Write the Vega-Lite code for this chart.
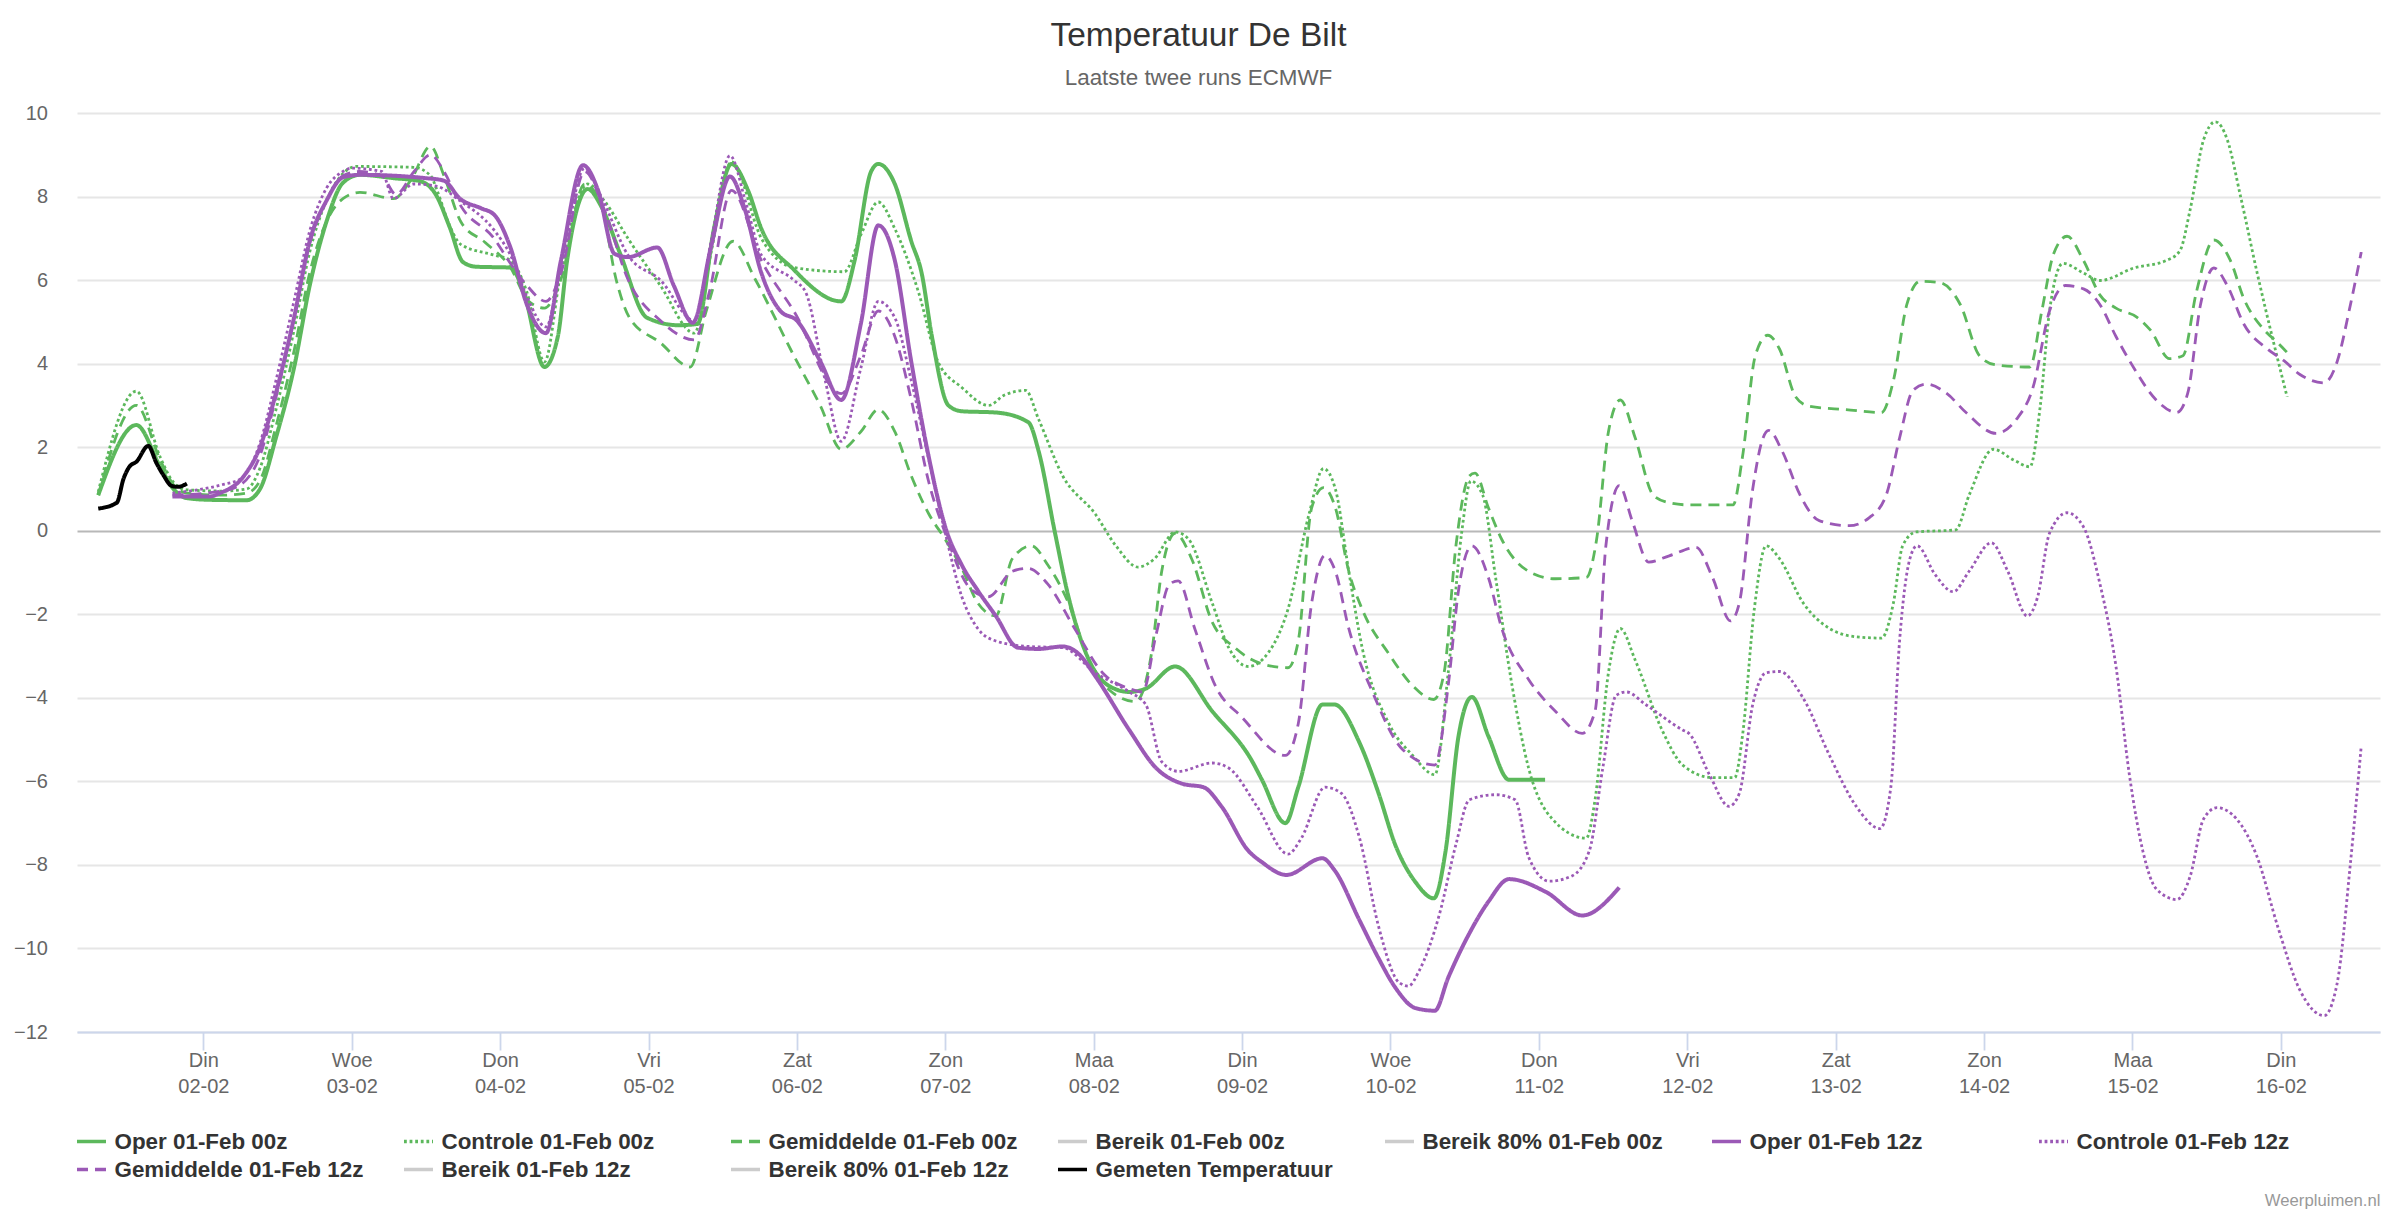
{
  "$schema": "https://vega.github.io/schema/vega-lite/v6.json",
  "autosize": {"type": "none"},
  "padding": {"left": 77, "top": 113, "right": 20, "bottom": 187},
  "width": 2303,
  "height": 919,
  "title": {
    "text": "Temperatuur De Bilt",
    "subtitle": "Laatste twee runs ECMWF",
    "anchor": "middle",
    "dx": -30,
    "offset": 13,
    "fontSize": 33.5,
    "fontWeight": "normal",
    "color": "#333333",
    "subtitleFontSize": 22.4,
    "subtitleColor": "#666666",
    "subtitlePadding": 13
  },
  "data": {
    "values": [
      {"s": "Oper 01-Feb 00z", "t": "2021-02-01T07:00", "v": 0.85},
      {"s": "Oper 01-Feb 00z", "t": "2021-02-01T13:10", "v": 2.53},
      {"s": "Oper 01-Feb 00z", "t": "2021-02-01T17:00", "v": 1.54},
      {"s": "Oper 01-Feb 00z", "t": "2021-02-01T19:10", "v": 1.0},
      {"s": "Oper 01-Feb 00z", "t": "2021-02-01T21:20", "v": 0.78},
      {"s": "Oper 01-Feb 00z", "t": "2021-02-02T01:00", "v": 0.74},
      {"s": "Oper 01-Feb 00z", "t": "2021-02-02T07:00", "v": 0.73},
      {"s": "Oper 01-Feb 00z", "t": "2021-02-02T09:10", "v": 1.0},
      {"s": "Oper 01-Feb 00z", "t": "2021-02-02T11:45", "v": 2.23},
      {"s": "Oper 01-Feb 00z", "t": "2021-02-02T14:40", "v": 3.9},
      {"s": "Oper 01-Feb 00z", "t": "2021-02-02T17:15", "v": 5.9},
      {"s": "Oper 01-Feb 00z", "t": "2021-02-02T19:55", "v": 7.4},
      {"s": "Oper 01-Feb 00z", "t": "2021-02-02T22:35", "v": 8.33},
      {"s": "Oper 01-Feb 00z", "t": "2021-02-03T01:20", "v": 8.52},
      {"s": "Oper 01-Feb 00z", "t": "2021-02-03T06:45", "v": 8.44},
      {"s": "Oper 01-Feb 00z", "t": "2021-02-03T11:00", "v": 8.37},
      {"s": "Oper 01-Feb 00z", "t": "2021-02-03T13:40", "v": 8.03},
      {"s": "Oper 01-Feb 00z", "t": "2021-02-03T15:50", "v": 7.27},
      {"s": "Oper 01-Feb 00z", "t": "2021-02-03T18:00", "v": 6.43},
      {"s": "Oper 01-Feb 00z", "t": "2021-02-03T20:10", "v": 6.32},
      {"s": "Oper 01-Feb 00z", "t": "2021-02-04T01:40", "v": 6.3},
      {"s": "Oper 01-Feb 00z", "t": "2021-02-04T03:50", "v": 5.7},
      {"s": "Oper 01-Feb 00z", "t": "2021-02-04T07:10", "v": 3.92},
      {"s": "Oper 01-Feb 00z", "t": "2021-02-04T09:20", "v": 4.65},
      {"s": "Oper 01-Feb 00z", "t": "2021-02-04T10:50", "v": 6.47},
      {"s": "Oper 01-Feb 00z", "t": "2021-02-04T14:10", "v": 8.18},
      {"s": "Oper 01-Feb 00z", "t": "2021-02-04T16:20", "v": 7.77},
      {"s": "Oper 01-Feb 00z", "t": "2021-02-04T19:25", "v": 6.63},
      {"s": "Oper 01-Feb 00z", "t": "2021-02-04T23:45", "v": 5.1},
      {"s": "Oper 01-Feb 00z", "t": "2021-02-05T04:50", "v": 4.92},
      {"s": "Oper 01-Feb 00z", "t": "2021-02-05T07:55", "v": 4.95},
      {"s": "Oper 01-Feb 00z", "t": "2021-02-05T10:35", "v": 7.23},
      {"s": "Oper 01-Feb 00z", "t": "2021-02-05T13:25", "v": 8.78},
      {"s": "Oper 01-Feb 00z", "t": "2021-02-05T16:05", "v": 8.15},
      {"s": "Oper 01-Feb 00z", "t": "2021-02-05T18:15", "v": 7.23},
      {"s": "Oper 01-Feb 00z", "t": "2021-02-05T23:30", "v": 6.25},
      {"s": "Oper 01-Feb 00z", "t": "2021-02-06T07:10", "v": 5.49},
      {"s": "Oper 01-Feb 00z", "t": "2021-02-06T09:20", "v": 6.47},
      {"s": "Oper 01-Feb 00z", "t": "2021-02-06T12:00", "v": 8.6},
      {"s": "Oper 01-Feb 00z", "t": "2021-02-06T13:10", "v": 8.78},
      {"s": "Oper 01-Feb 00z", "t": "2021-02-06T15:50", "v": 8.3},
      {"s": "Oper 01-Feb 00z", "t": "2021-02-06T18:30", "v": 6.93},
      {"s": "Oper 01-Feb 00z", "t": "2021-02-06T20:10", "v": 6.17},
      {"s": "Oper 01-Feb 00z", "t": "2021-02-06T21:50", "v": 4.65},
      {"s": "Oper 01-Feb 00z", "t": "2021-02-07T00:30", "v": 3.0},
      {"s": "Oper 01-Feb 00z", "t": "2021-02-07T02:40", "v": 2.86},
      {"s": "Oper 01-Feb 00z", "t": "2021-02-07T08:10", "v": 2.83},
      {"s": "Oper 01-Feb 00z", "t": "2021-02-07T13:25", "v": 2.6},
      {"s": "Oper 01-Feb 00z", "t": "2021-02-07T15:05", "v": 1.91},
      {"s": "Oper 01-Feb 00z", "t": "2021-02-07T17:45", "v": -0.06},
      {"s": "Oper 01-Feb 00z", "t": "2021-02-07T19:55", "v": -1.58},
      {"s": "Oper 01-Feb 00z", "t": "2021-02-07T23:15", "v": -3.1},
      {"s": "Oper 01-Feb 00z", "t": "2021-02-08T02:25", "v": -3.71},
      {"s": "Oper 01-Feb 00z", "t": "2021-02-08T05:45", "v": -3.86},
      {"s": "Oper 01-Feb 00z", "t": "2021-02-08T08:25", "v": -3.78},
      {"s": "Oper 01-Feb 00z", "t": "2021-02-08T13:10", "v": -3.25},
      {"s": "Oper 01-Feb 00z", "t": "2021-02-08T19:10", "v": -4.32},
      {"s": "Oper 01-Feb 00z", "t": "2021-02-09T01:40", "v": -5.53},
      {"s": "Oper 01-Feb 00z", "t": "2021-02-09T03:10", "v": -5.95},
      {"s": "Oper 01-Feb 00z", "t": "2021-02-09T07:00", "v": -7.0},
      {"s": "Oper 01-Feb 00z", "t": "2021-02-09T09:05", "v": -6.14},
      {"s": "Oper 01-Feb 00z", "t": "2021-02-09T13:00", "v": -4.16},
      {"s": "Oper 01-Feb 00z", "t": "2021-02-09T14:55", "v": -4.16},
      {"s": "Oper 01-Feb 00z", "t": "2021-02-09T19:00", "v": -5.08},
      {"s": "Oper 01-Feb 00z", "t": "2021-02-09T22:05", "v": -6.29},
      {"s": "Oper 01-Feb 00z", "t": "2021-02-10T00:45", "v": -7.51},
      {"s": "Oper 01-Feb 00z", "t": "2021-02-10T04:05", "v": -8.42},
      {"s": "Oper 01-Feb 00z", "t": "2021-02-10T07:00", "v": -8.8},
      {"s": "Oper 01-Feb 00z", "t": "2021-02-10T08:55", "v": -7.66},
      {"s": "Oper 01-Feb 00z", "t": "2021-02-10T11:00", "v": -4.92},
      {"s": "Oper 01-Feb 00z", "t": "2021-02-10T13:10", "v": -3.98},
      {"s": "Oper 01-Feb 00z", "t": "2021-02-10T15:50", "v": -4.92},
      {"s": "Oper 01-Feb 00z", "t": "2021-02-10T19:10", "v": -5.96},
      {"s": "Oper 01-Feb 00z", "t": "2021-02-11T01:00", "v": -5.96},
      {"s": "Controle 01-Feb 00z", "t": "2021-02-01T07:00", "v": 0.93},
      {"s": "Controle 01-Feb 00z", "t": "2021-02-01T13:10", "v": 3.34},
      {"s": "Controle 01-Feb 00z", "t": "2021-02-01T17:00", "v": 1.77},
      {"s": "Controle 01-Feb 00z", "t": "2021-02-01T19:10", "v": 1.16},
      {"s": "Controle 01-Feb 00z", "t": "2021-02-01T21:20", "v": 0.98},
      {"s": "Controle 01-Feb 00z", "t": "2021-02-02T03:00", "v": 0.95},
      {"s": "Controle 01-Feb 00z", "t": "2021-02-02T07:00", "v": 1.0},
      {"s": "Controle 01-Feb 00z", "t": "2021-02-02T09:10", "v": 1.5},
      {"s": "Controle 01-Feb 00z", "t": "2021-02-02T11:45", "v": 2.9},
      {"s": "Controle 01-Feb 00z", "t": "2021-02-02T14:40", "v": 4.8},
      {"s": "Controle 01-Feb 00z", "t": "2021-02-02T17:15", "v": 6.7},
      {"s": "Controle 01-Feb 00z", "t": "2021-02-02T19:55", "v": 7.9},
      {"s": "Controle 01-Feb 00z", "t": "2021-02-02T22:35", "v": 8.55},
      {"s": "Controle 01-Feb 00z", "t": "2021-02-03T00:45", "v": 8.72},
      {"s": "Controle 01-Feb 00z", "t": "2021-02-03T10:00", "v": 8.7},
      {"s": "Controle 01-Feb 00z", "t": "2021-02-03T12:45", "v": 8.5},
      {"s": "Controle 01-Feb 00z", "t": "2021-02-03T13:55", "v": 8.1},
      {"s": "Controle 01-Feb 00z", "t": "2021-02-03T15:50", "v": 7.3},
      {"s": "Controle 01-Feb 00z", "t": "2021-02-03T17:40", "v": 6.85},
      {"s": "Controle 01-Feb 00z", "t": "2021-02-03T23:00", "v": 6.6},
      {"s": "Controle 01-Feb 00z", "t": "2021-02-04T01:40", "v": 6.47},
      {"s": "Controle 01-Feb 00z", "t": "2021-02-04T04:20", "v": 5.71},
      {"s": "Controle 01-Feb 00z", "t": "2021-02-04T07:10", "v": 4.04},
      {"s": "Controle 01-Feb 00z", "t": "2021-02-04T09:50", "v": 6.2},
      {"s": "Controle 01-Feb 00z", "t": "2021-02-04T14:10", "v": 8.3},
      {"s": "Controle 01-Feb 00z", "t": "2021-02-04T16:50", "v": 7.9},
      {"s": "Controle 01-Feb 00z", "t": "2021-02-04T20:40", "v": 7.0},
      {"s": "Controle 01-Feb 00z", "t": "2021-02-05T01:55", "v": 5.87},
      {"s": "Controle 01-Feb 00z", "t": "2021-02-05T07:25", "v": 4.73},
      {"s": "Controle 01-Feb 00z", "t": "2021-02-05T10:05", "v": 6.63},
      {"s": "Controle 01-Feb 00z", "t": "2021-02-05T13:25", "v": 8.83},
      {"s": "Controle 01-Feb 00z", "t": "2021-02-05T18:15", "v": 7.0},
      {"s": "Controle 01-Feb 00z", "t": "2021-02-05T23:30", "v": 6.3},
      {"s": "Controle 01-Feb 00z", "t": "2021-02-06T07:40", "v": 6.2},
      {"s": "Controle 01-Feb 00z", "t": "2021-02-06T10:20", "v": 7.08},
      {"s": "Controle 01-Feb 00z", "t": "2021-02-06T13:10", "v": 7.87},
      {"s": "Controle 01-Feb 00z", "t": "2021-02-06T15:50", "v": 7.23},
      {"s": "Controle 01-Feb 00z", "t": "2021-02-06T19:40", "v": 5.71},
      {"s": "Controle 01-Feb 00z", "t": "2021-02-06T22:50", "v": 4.04},
      {"s": "Controle 01-Feb 00z", "t": "2021-02-07T02:40", "v": 3.43},
      {"s": "Controle 01-Feb 00z", "t": "2021-02-07T07:00", "v": 3.0},
      {"s": "Controle 01-Feb 00z", "t": "2021-02-07T09:35", "v": 3.25},
      {"s": "Controle 01-Feb 00z", "t": "2021-02-07T13:00", "v": 3.36},
      {"s": "Controle 01-Feb 00z", "t": "2021-02-07T15:05", "v": 2.67},
      {"s": "Controle 01-Feb 00z", "t": "2021-02-07T19:00", "v": 1.31},
      {"s": "Controle 01-Feb 00z", "t": "2021-02-08T00:15", "v": 0.4},
      {"s": "Controle 01-Feb 00z", "t": "2021-02-08T03:35", "v": -0.36},
      {"s": "Controle 01-Feb 00z", "t": "2021-02-08T07:10", "v": -0.87},
      {"s": "Controle 01-Feb 00z", "t": "2021-02-08T09:50", "v": -0.67},
      {"s": "Controle 01-Feb 00z", "t": "2021-02-08T13:10", "v": -0.03},
      {"s": "Controle 01-Feb 00z", "t": "2021-02-08T15:20", "v": -0.2},
      {"s": "Controle 01-Feb 00z", "t": "2021-02-08T19:10", "v": -1.73},
      {"s": "Controle 01-Feb 00z", "t": "2021-02-08T21:50", "v": -2.8},
      {"s": "Controle 01-Feb 00z", "t": "2021-02-09T01:00", "v": -3.25},
      {"s": "Controle 01-Feb 00z", "t": "2021-02-09T04:20", "v": -2.9},
      {"s": "Controle 01-Feb 00z", "t": "2021-02-09T07:25", "v": -1.88},
      {"s": "Controle 01-Feb 00z", "t": "2021-02-09T10:50", "v": 0.4},
      {"s": "Controle 01-Feb 00z", "t": "2021-02-09T13:10", "v": 1.49},
      {"s": "Controle 01-Feb 00z", "t": "2021-02-09T15:05", "v": 1.0},
      {"s": "Controle 01-Feb 00z", "t": "2021-02-09T17:15", "v": -0.97},
      {"s": "Controle 01-Feb 00z", "t": "2021-02-09T19:25", "v": -2.8},
      {"s": "Controle 01-Feb 00z", "t": "2021-02-09T23:45", "v": -4.62},
      {"s": "Controle 01-Feb 00z", "t": "2021-02-10T03:35", "v": -5.38},
      {"s": "Controle 01-Feb 00z", "t": "2021-02-10T07:10", "v": -5.84},
      {"s": "Controle 01-Feb 00z", "t": "2021-02-10T09:20", "v": -3.4},
      {"s": "Controle 01-Feb 00z", "t": "2021-02-10T11:30", "v": -0.06},
      {"s": "Controle 01-Feb 00z", "t": "2021-02-10T13:00", "v": 1.19},
      {"s": "Controle 01-Feb 00z", "t": "2021-02-10T14:55", "v": 0.85},
      {"s": "Controle 01-Feb 00z", "t": "2021-02-10T17:00", "v": -1.12},
      {"s": "Controle 01-Feb 00z", "t": "2021-02-10T19:40", "v": -3.71},
      {"s": "Controle 01-Feb 00z", "t": "2021-02-10T22:20", "v": -5.68},
      {"s": "Controle 01-Feb 00z", "t": "2021-02-11T02:10", "v": -6.9},
      {"s": "Controle 01-Feb 00z", "t": "2021-02-11T07:40", "v": -7.36},
      {"s": "Controle 01-Feb 00z", "t": "2021-02-11T09:05", "v": -6.44},
      {"s": "Controle 01-Feb 00z", "t": "2021-02-11T11:15", "v": -3.4},
      {"s": "Controle 01-Feb 00z", "t": "2021-02-11T13:10", "v": -2.34},
      {"s": "Controle 01-Feb 00z", "t": "2021-02-11T15:35", "v": -3.1},
      {"s": "Controle 01-Feb 00z", "t": "2021-02-11T19:55", "v": -4.77},
      {"s": "Controle 01-Feb 00z", "t": "2021-02-11T23:15", "v": -5.61},
      {"s": "Controle 01-Feb 00z", "t": "2021-02-12T04:05", "v": -5.91},
      {"s": "Controle 01-Feb 00z", "t": "2021-02-12T07:40", "v": -5.91},
      {"s": "Controle 01-Feb 00z", "t": "2021-02-12T08:55", "v": -4.92},
      {"s": "Controle 01-Feb 00z", "t": "2021-02-12T10:50", "v": -1.88},
      {"s": "Controle 01-Feb 00z", "t": "2021-02-12T12:45", "v": -0.36},
      {"s": "Controle 01-Feb 00z", "t": "2021-02-12T14:55", "v": -0.67},
      {"s": "Controle 01-Feb 00z", "t": "2021-02-12T18:45", "v": -1.73},
      {"s": "Controle 01-Feb 00z", "t": "2021-02-12T23:00", "v": -2.34},
      {"s": "Controle 01-Feb 00z", "t": "2021-02-13T03:20", "v": -2.54},
      {"s": "Controle 01-Feb 00z", "t": "2021-02-13T07:25", "v": -2.57},
      {"s": "Controle 01-Feb 00z", "t": "2021-02-13T09:20", "v": -1.73},
      {"s": "Controle 01-Feb 00z", "t": "2021-02-13T10:50", "v": -0.36},
      {"s": "Controle 01-Feb 00z", "t": "2021-02-13T13:00", "v": -0.03},
      {"s": "Controle 01-Feb 00z", "t": "2021-02-13T19:25", "v": 0.02},
      {"s": "Controle 01-Feb 00z", "t": "2021-02-13T21:35", "v": 0.85},
      {"s": "Controle 01-Feb 00z", "t": "2021-02-14T01:30", "v": 1.95},
      {"s": "Controle 01-Feb 00z", "t": "2021-02-14T04:50", "v": 1.69},
      {"s": "Controle 01-Feb 00z", "t": "2021-02-14T07:25", "v": 1.53},
      {"s": "Controle 01-Feb 00z", "t": "2021-02-14T09:05", "v": 2.98},
      {"s": "Controle 01-Feb 00z", "t": "2021-02-14T10:35", "v": 5.26},
      {"s": "Controle 01-Feb 00z", "t": "2021-02-14T12:45", "v": 6.4},
      {"s": "Controle 01-Feb 00z", "t": "2021-02-14T16:05", "v": 6.17},
      {"s": "Controle 01-Feb 00z", "t": "2021-02-14T18:45", "v": 5.99},
      {"s": "Controle 01-Feb 00z", "t": "2021-02-15T00:15", "v": 6.29},
      {"s": "Controle 01-Feb 00z", "t": "2021-02-15T05:30", "v": 6.47},
      {"s": "Controle 01-Feb 00z", "t": "2021-02-15T07:40", "v": 6.7},
      {"s": "Controle 01-Feb 00z", "t": "2021-02-15T09:20", "v": 7.69},
      {"s": "Controle 01-Feb 00z", "t": "2021-02-15T11:30", "v": 9.36},
      {"s": "Controle 01-Feb 00z", "t": "2021-02-15T13:25", "v": 9.79},
      {"s": "Controle 01-Feb 00z", "t": "2021-02-15T15:20", "v": 9.36},
      {"s": "Controle 01-Feb 00z", "t": "2021-02-15T17:30", "v": 7.99},
      {"s": "Controle 01-Feb 00z", "t": "2021-02-15T20:10", "v": 6.17},
      {"s": "Controle 01-Feb 00z", "t": "2021-02-15T22:50", "v": 4.5},
      {"s": "Controle 01-Feb 00z", "t": "2021-02-16T01:00", "v": 3.21},
      {"s": "Gemiddelde 01-Feb 00z", "t": "2021-02-01T07:00", "v": 0.85},
      {"s": "Gemiddelde 01-Feb 00z", "t": "2021-02-01T13:10", "v": 3.0},
      {"s": "Gemiddelde 01-Feb 00z", "t": "2021-02-01T17:00", "v": 1.7},
      {"s": "Gemiddelde 01-Feb 00z", "t": "2021-02-01T19:10", "v": 1.1},
      {"s": "Gemiddelde 01-Feb 00z", "t": "2021-02-01T21:20", "v": 0.9},
      {"s": "Gemiddelde 01-Feb 00z", "t": "2021-02-02T03:00", "v": 0.85},
      {"s": "Gemiddelde 01-Feb 00z", "t": "2021-02-02T07:00", "v": 0.9},
      {"s": "Gemiddelde 01-Feb 00z", "t": "2021-02-02T09:10", "v": 1.2},
      {"s": "Gemiddelde 01-Feb 00z", "t": "2021-02-02T11:45", "v": 2.5},
      {"s": "Gemiddelde 01-Feb 00z", "t": "2021-02-02T14:40", "v": 4.3},
      {"s": "Gemiddelde 01-Feb 00z", "t": "2021-02-02T17:15", "v": 6.2},
      {"s": "Gemiddelde 01-Feb 00z", "t": "2021-02-02T19:55", "v": 7.4},
      {"s": "Gemiddelde 01-Feb 00z", "t": "2021-02-02T22:35", "v": 7.95},
      {"s": "Gemiddelde 01-Feb 00z", "t": "2021-02-03T01:20", "v": 8.1},
      {"s": "Gemiddelde 01-Feb 00z", "t": "2021-02-03T06:45", "v": 7.95},
      {"s": "Gemiddelde 01-Feb 00z", "t": "2021-02-03T09:35", "v": 8.4},
      {"s": "Gemiddelde 01-Feb 00z", "t": "2021-02-03T12:45", "v": 9.2},
      {"s": "Gemiddelde 01-Feb 00z", "t": "2021-02-03T14:55", "v": 8.5},
      {"s": "Gemiddelde 01-Feb 00z", "t": "2021-02-03T17:40", "v": 7.39},
      {"s": "Gemiddelde 01-Feb 00z", "t": "2021-02-03T21:35", "v": 6.9},
      {"s": "Gemiddelde 01-Feb 00z", "t": "2021-02-04T01:40", "v": 6.3},
      {"s": "Gemiddelde 01-Feb 00z", "t": "2021-02-04T04:35", "v": 5.5},
      {"s": "Gemiddelde 01-Feb 00z", "t": "2021-02-04T07:10", "v": 5.33},
      {"s": "Gemiddelde 01-Feb 00z", "t": "2021-02-04T09:50", "v": 6.02},
      {"s": "Gemiddelde 01-Feb 00z", "t": "2021-02-04T13:40", "v": 8.3},
      {"s": "Gemiddelde 01-Feb 00z", "t": "2021-02-04T16:20", "v": 7.8},
      {"s": "Gemiddelde 01-Feb 00z", "t": "2021-02-04T18:45", "v": 6.02},
      {"s": "Gemiddelde 01-Feb 00z", "t": "2021-02-04T20:55", "v": 5.1},
      {"s": "Gemiddelde 01-Feb 00z", "t": "2021-02-05T01:55", "v": 4.5},
      {"s": "Gemiddelde 01-Feb 00z", "t": "2021-02-05T06:45", "v": 3.92},
      {"s": "Gemiddelde 01-Feb 00z", "t": "2021-02-05T09:20", "v": 5.26},
      {"s": "Gemiddelde 01-Feb 00z", "t": "2021-02-05T13:40", "v": 6.93},
      {"s": "Gemiddelde 01-Feb 00z", "t": "2021-02-05T17:15", "v": 6.02},
      {"s": "Gemiddelde 01-Feb 00z", "t": "2021-02-05T23:30", "v": 4.19},
      {"s": "Gemiddelde 01-Feb 00z", "t": "2021-02-06T03:50", "v": 2.98},
      {"s": "Gemiddelde 01-Feb 00z", "t": "2021-02-06T07:10", "v": 1.95},
      {"s": "Gemiddelde 01-Feb 00z", "t": "2021-02-06T10:20", "v": 2.37},
      {"s": "Gemiddelde 01-Feb 00z", "t": "2021-02-06T13:10", "v": 2.9},
      {"s": "Gemiddelde 01-Feb 00z", "t": "2021-02-06T15:50", "v": 2.37},
      {"s": "Gemiddelde 01-Feb 00z", "t": "2021-02-06T18:30", "v": 1.31},
      {"s": "Gemiddelde 01-Feb 00z", "t": "2021-02-06T21:20", "v": 0.4},
      {"s": "Gemiddelde 01-Feb 00z", "t": "2021-02-07T00:00", "v": -0.21},
      {"s": "Gemiddelde 01-Feb 00z", "t": "2021-02-07T02:40", "v": -0.9},
      {"s": "Gemiddelde 01-Feb 00z", "t": "2021-02-07T05:15", "v": -1.73},
      {"s": "Gemiddelde 01-Feb 00z", "t": "2021-02-07T08:10", "v": -2.04},
      {"s": "Gemiddelde 01-Feb 00z", "t": "2021-02-07T10:50", "v": -0.67},
      {"s": "Gemiddelde 01-Feb 00z", "t": "2021-02-07T13:55", "v": -0.36},
      {"s": "Gemiddelde 01-Feb 00z", "t": "2021-02-07T16:35", "v": -0.82},
      {"s": "Gemiddelde 01-Feb 00z", "t": "2021-02-07T19:55", "v": -1.73},
      {"s": "Gemiddelde 01-Feb 00z", "t": "2021-02-07T23:15", "v": -3.1},
      {"s": "Gemiddelde 01-Feb 00z", "t": "2021-02-08T02:55", "v": -3.86},
      {"s": "Gemiddelde 01-Feb 00z", "t": "2021-02-08T06:45", "v": -4.09},
      {"s": "Gemiddelde 01-Feb 00z", "t": "2021-02-08T09:20", "v": -2.95},
      {"s": "Gemiddelde 01-Feb 00z", "t": "2021-02-08T11:00", "v": -0.97},
      {"s": "Gemiddelde 01-Feb 00z", "t": "2021-02-08T13:10", "v": -0.06},
      {"s": "Gemiddelde 01-Feb 00z", "t": "2021-02-08T15:50", "v": -0.67},
      {"s": "Gemiddelde 01-Feb 00z", "t": "2021-02-08T19:10", "v": -2.19},
      {"s": "Gemiddelde 01-Feb 00z", "t": "2021-02-08T22:50", "v": -2.8},
      {"s": "Gemiddelde 01-Feb 00z", "t": "2021-02-09T03:05", "v": -3.18},
      {"s": "Gemiddelde 01-Feb 00z", "t": "2021-02-09T07:25", "v": -3.28},
      {"s": "Gemiddelde 01-Feb 00z", "t": "2021-02-09T09:05", "v": -2.64},
      {"s": "Gemiddelde 01-Feb 00z", "t": "2021-02-09T11:15", "v": 0.55},
      {"s": "Gemiddelde 01-Feb 00z", "t": "2021-02-09T13:10", "v": 1.03},
      {"s": "Gemiddelde 01-Feb 00z", "t": "2021-02-09T15:05", "v": 0.55},
      {"s": "Gemiddelde 01-Feb 00z", "t": "2021-02-09T17:15", "v": -0.97},
      {"s": "Gemiddelde 01-Feb 00z", "t": "2021-02-09T19:25", "v": -1.88},
      {"s": "Gemiddelde 01-Feb 00z", "t": "2021-02-09T23:45", "v": -2.95},
      {"s": "Gemiddelde 01-Feb 00z", "t": "2021-02-10T03:35", "v": -3.71},
      {"s": "Gemiddelde 01-Feb 00z", "t": "2021-02-10T07:00", "v": -4.04},
      {"s": "Gemiddelde 01-Feb 00z", "t": "2021-02-10T08:40", "v": -3.4},
      {"s": "Gemiddelde 01-Feb 00z", "t": "2021-02-10T10:35", "v": -0.36},
      {"s": "Gemiddelde 01-Feb 00z", "t": "2021-02-10T12:45", "v": 1.31},
      {"s": "Gemiddelde 01-Feb 00z", "t": "2021-02-10T13:40", "v": 1.38},
      {"s": "Gemiddelde 01-Feb 00z", "t": "2021-02-10T15:50", "v": 0.55},
      {"s": "Gemiddelde 01-Feb 00z", "t": "2021-02-10T18:00", "v": -0.21},
      {"s": "Gemiddelde 01-Feb 00z", "t": "2021-02-10T22:20", "v": -0.97},
      {"s": "Gemiddelde 01-Feb 00z", "t": "2021-02-11T02:40", "v": -1.15},
      {"s": "Gemiddelde 01-Feb 00z", "t": "2021-02-11T07:40", "v": -1.12},
      {"s": "Gemiddelde 01-Feb 00z", "t": "2021-02-11T09:20", "v": -0.21},
      {"s": "Gemiddelde 01-Feb 00z", "t": "2021-02-11T11:15", "v": 2.37},
      {"s": "Gemiddelde 01-Feb 00z", "t": "2021-02-11T13:10", "v": 3.13},
      {"s": "Gemiddelde 01-Feb 00z", "t": "2021-02-11T15:35", "v": 2.22},
      {"s": "Gemiddelde 01-Feb 00z", "t": "2021-02-11T18:30", "v": 0.85},
      {"s": "Gemiddelde 01-Feb 00z", "t": "2021-02-11T21:05", "v": 0.67},
      {"s": "Gemiddelde 01-Feb 00z", "t": "2021-02-12T00:00", "v": 0.62},
      {"s": "Gemiddelde 01-Feb 00z", "t": "2021-02-12T07:25", "v": 0.62},
      {"s": "Gemiddelde 01-Feb 00z", "t": "2021-02-12T08:55", "v": 1.76},
      {"s": "Gemiddelde 01-Feb 00z", "t": "2021-02-12T11:00", "v": 4.19},
      {"s": "Gemiddelde 01-Feb 00z", "t": "2021-02-12T13:00", "v": 4.68},
      {"s": "Gemiddelde 01-Feb 00z", "t": "2021-02-12T14:55", "v": 4.35},
      {"s": "Gemiddelde 01-Feb 00z", "t": "2021-02-12T17:30", "v": 3.21},
      {"s": "Gemiddelde 01-Feb 00z", "t": "2021-02-12T19:40", "v": 2.98},
      {"s": "Gemiddelde 01-Feb 00z", "t": "2021-02-13T01:40", "v": 2.9},
      {"s": "Gemiddelde 01-Feb 00z", "t": "2021-02-13T07:25", "v": 2.83},
      {"s": "Gemiddelde 01-Feb 00z", "t": "2021-02-13T09:20", "v": 3.59},
      {"s": "Gemiddelde 01-Feb 00z", "t": "2021-02-13T11:30", "v": 5.41},
      {"s": "Gemiddelde 01-Feb 00z", "t": "2021-02-13T13:40", "v": 5.97},
      {"s": "Gemiddelde 01-Feb 00z", "t": "2021-02-13T16:50", "v": 5.94},
      {"s": "Gemiddelde 01-Feb 00z", "t": "2021-02-13T20:10", "v": 5.41},
      {"s": "Gemiddelde 01-Feb 00z", "t": "2021-02-13T23:15", "v": 4.19},
      {"s": "Gemiddelde 01-Feb 00z", "t": "2021-02-14T01:55", "v": 3.97},
      {"s": "Gemiddelde 01-Feb 00z", "t": "2021-02-14T07:25", "v": 3.92},
      {"s": "Gemiddelde 01-Feb 00z", "t": "2021-02-14T09:20", "v": 5.26},
      {"s": "Gemiddelde 01-Feb 00z", "t": "2021-02-14T11:15", "v": 6.63},
      {"s": "Gemiddelde 01-Feb 00z", "t": "2021-02-14T13:25", "v": 7.05},
      {"s": "Gemiddelde 01-Feb 00z", "t": "2021-02-14T16:05", "v": 6.47},
      {"s": "Gemiddelde 01-Feb 00z", "t": "2021-02-14T18:45", "v": 5.64},
      {"s": "Gemiddelde 01-Feb 00z", "t": "2021-02-14T21:20", "v": 5.33},
      {"s": "Gemiddelde 01-Feb 00z", "t": "2021-02-15T00:45", "v": 5.11},
      {"s": "Gemiddelde 01-Feb 00z", "t": "2021-02-15T02:55", "v": 4.8},
      {"s": "Gemiddelde 01-Feb 00z", "t": "2021-02-15T06:00", "v": 4.12},
      {"s": "Gemiddelde 01-Feb 00z", "t": "2021-02-15T08:10", "v": 4.19},
      {"s": "Gemiddelde 01-Feb 00z", "t": "2021-02-15T10:20", "v": 5.71},
      {"s": "Gemiddelde 01-Feb 00z", "t": "2021-02-15T13:10", "v": 6.96},
      {"s": "Gemiddelde 01-Feb 00z", "t": "2021-02-15T15:50", "v": 6.47},
      {"s": "Gemiddelde 01-Feb 00z", "t": "2021-02-15T18:00", "v": 5.56},
      {"s": "Gemiddelde 01-Feb 00z", "t": "2021-02-15T21:20", "v": 4.8},
      {"s": "Gemiddelde 01-Feb 00z", "t": "2021-02-15T23:30", "v": 4.5},
      {"s": "Gemiddelde 01-Feb 00z", "t": "2021-02-16T01:00", "v": 4.27},
      {"s": "Oper 01-Feb 12z", "t": "2021-02-01T19:00", "v": 0.82},
      {"s": "Oper 01-Feb 12z", "t": "2021-02-02T01:00", "v": 0.82},
      {"s": "Oper 01-Feb 12z", "t": "2021-02-02T02:40", "v": 0.9},
      {"s": "Oper 01-Feb 12z", "t": "2021-02-02T06:30", "v": 1.3},
      {"s": "Oper 01-Feb 12z", "t": "2021-02-02T09:10", "v": 2.0},
      {"s": "Oper 01-Feb 12z", "t": "2021-02-02T11:45", "v": 3.3},
      {"s": "Oper 01-Feb 12z", "t": "2021-02-02T14:40", "v": 5.1},
      {"s": "Oper 01-Feb 12z", "t": "2021-02-02T17:15", "v": 6.96},
      {"s": "Oper 01-Feb 12z", "t": "2021-02-02T19:55", "v": 7.9},
      {"s": "Oper 01-Feb 12z", "t": "2021-02-02T22:35", "v": 8.46},
      {"s": "Oper 01-Feb 12z", "t": "2021-02-03T01:20", "v": 8.52},
      {"s": "Oper 01-Feb 12z", "t": "2021-02-03T12:00", "v": 8.44},
      {"s": "Oper 01-Feb 12z", "t": "2021-02-03T14:55", "v": 8.38},
      {"s": "Oper 01-Feb 12z", "t": "2021-02-03T17:30", "v": 7.95},
      {"s": "Oper 01-Feb 12z", "t": "2021-02-03T20:55", "v": 7.72},
      {"s": "Oper 01-Feb 12z", "t": "2021-02-03T23:00", "v": 7.57},
      {"s": "Oper 01-Feb 12z", "t": "2021-02-04T01:40", "v": 6.78},
      {"s": "Oper 01-Feb 12z", "t": "2021-02-04T04:20", "v": 5.41},
      {"s": "Oper 01-Feb 12z", "t": "2021-02-04T07:25", "v": 4.73},
      {"s": "Oper 01-Feb 12z", "t": "2021-02-04T09:50", "v": 6.47},
      {"s": "Oper 01-Feb 12z", "t": "2021-02-04T13:25", "v": 8.75},
      {"s": "Oper 01-Feb 12z", "t": "2021-02-04T15:50", "v": 8.15},
      {"s": "Oper 01-Feb 12z", "t": "2021-02-04T18:30", "v": 6.63},
      {"s": "Oper 01-Feb 12z", "t": "2021-02-04T20:40", "v": 6.55},
      {"s": "Oper 01-Feb 12z", "t": "2021-02-05T01:25", "v": 6.78},
      {"s": "Oper 01-Feb 12z", "t": "2021-02-05T04:05", "v": 5.87},
      {"s": "Oper 01-Feb 12z", "t": "2021-02-05T07:10", "v": 4.98},
      {"s": "Oper 01-Feb 12z", "t": "2021-02-05T10:05", "v": 6.78},
      {"s": "Oper 01-Feb 12z", "t": "2021-02-05T13:10", "v": 8.48},
      {"s": "Oper 01-Feb 12z", "t": "2021-02-05T15:35", "v": 7.69},
      {"s": "Oper 01-Feb 12z", "t": "2021-02-05T18:15", "v": 6.17},
      {"s": "Oper 01-Feb 12z", "t": "2021-02-05T21:20", "v": 5.26},
      {"s": "Oper 01-Feb 12z", "t": "2021-02-06T00:00", "v": 5.03},
      {"s": "Oper 01-Feb 12z", "t": "2021-02-06T03:50", "v": 4.04},
      {"s": "Oper 01-Feb 12z", "t": "2021-02-06T07:10", "v": 3.13},
      {"s": "Oper 01-Feb 12z", "t": "2021-02-06T10:20", "v": 4.95},
      {"s": "Oper 01-Feb 12z", "t": "2021-02-06T13:10", "v": 7.31},
      {"s": "Oper 01-Feb 12z", "t": "2021-02-06T15:50", "v": 6.47},
      {"s": "Oper 01-Feb 12z", "t": "2021-02-06T18:30", "v": 4.04},
      {"s": "Oper 01-Feb 12z", "t": "2021-02-06T21:20", "v": 1.76},
      {"s": "Oper 01-Feb 12z", "t": "2021-02-07T00:00", "v": 0.09},
      {"s": "Oper 01-Feb 12z", "t": "2021-02-07T02:40", "v": -0.82},
      {"s": "Oper 01-Feb 12z", "t": "2021-02-07T05:15", "v": -1.43},
      {"s": "Oper 01-Feb 12z", "t": "2021-02-07T08:10", "v": -2.04},
      {"s": "Oper 01-Feb 12z", "t": "2021-02-07T11:45", "v": -2.8},
      {"s": "Oper 01-Feb 12z", "t": "2021-02-07T15:05", "v": -2.83},
      {"s": "Oper 01-Feb 12z", "t": "2021-02-07T19:00", "v": -2.77},
      {"s": "Oper 01-Feb 12z", "t": "2021-02-07T21:35", "v": -2.95},
      {"s": "Oper 01-Feb 12z", "t": "2021-02-08T00:15", "v": -3.48},
      {"s": "Oper 01-Feb 12z", "t": "2021-02-08T05:45", "v": -4.77},
      {"s": "Oper 01-Feb 12z", "t": "2021-02-08T10:05", "v": -5.68},
      {"s": "Oper 01-Feb 12z", "t": "2021-02-08T14:25", "v": -6.06},
      {"s": "Oper 01-Feb 12z", "t": "2021-02-08T17:45", "v": -6.14},
      {"s": "Oper 01-Feb 12z", "t": "2021-02-08T20:40", "v": -6.6},
      {"s": "Oper 01-Feb 12z", "t": "2021-02-09T01:00", "v": -7.66},
      {"s": "Oper 01-Feb 12z", "t": "2021-02-09T03:10", "v": -7.93},
      {"s": "Oper 01-Feb 12z", "t": "2021-02-09T07:10", "v": -8.24},
      {"s": "Oper 01-Feb 12z", "t": "2021-02-09T13:00", "v": -7.84},
      {"s": "Oper 01-Feb 12z", "t": "2021-02-09T14:55", "v": -8.12},
      {"s": "Oper 01-Feb 12z", "t": "2021-02-09T19:00", "v": -9.33},
      {"s": "Oper 01-Feb 12z", "t": "2021-02-09T22:05", "v": -10.24},
      {"s": "Oper 01-Feb 12z", "t": "2021-02-10T00:45", "v": -10.93},
      {"s": "Oper 01-Feb 12z", "t": "2021-02-10T04:05", "v": -11.43},
      {"s": "Oper 01-Feb 12z", "t": "2021-02-10T07:10", "v": -11.49},
      {"s": "Oper 01-Feb 12z", "t": "2021-02-10T09:20", "v": -10.7},
      {"s": "Oper 01-Feb 12z", "t": "2021-02-10T12:45", "v": -9.64},
      {"s": "Oper 01-Feb 12z", "t": "2021-02-10T15:50", "v": -8.88},
      {"s": "Oper 01-Feb 12z", "t": "2021-02-10T19:10", "v": -8.34},
      {"s": "Oper 01-Feb 12z", "t": "2021-02-11T01:10", "v": -8.65},
      {"s": "Oper 01-Feb 12z", "t": "2021-02-11T07:00", "v": -9.21},
      {"s": "Oper 01-Feb 12z", "t": "2021-02-11T13:00", "v": -8.54},
      {"s": "Controle 01-Feb 12z", "t": "2021-02-01T19:00", "v": 0.9},
      {"s": "Controle 01-Feb 12z", "t": "2021-02-02T03:00", "v": 1.1},
      {"s": "Controle 01-Feb 12z", "t": "2021-02-02T06:00", "v": 1.24},
      {"s": "Controle 01-Feb 12z", "t": "2021-02-02T09:10", "v": 2.1},
      {"s": "Controle 01-Feb 12z", "t": "2021-02-02T11:45", "v": 3.6},
      {"s": "Controle 01-Feb 12z", "t": "2021-02-02T14:40", "v": 5.5},
      {"s": "Controle 01-Feb 12z", "t": "2021-02-02T17:15", "v": 7.2},
      {"s": "Controle 01-Feb 12z", "t": "2021-02-02T19:55", "v": 8.2},
      {"s": "Controle 01-Feb 12z", "t": "2021-02-02T22:35", "v": 8.6},
      {"s": "Controle 01-Feb 12z", "t": "2021-02-03T00:00", "v": 8.68},
      {"s": "Controle 01-Feb 12z", "t": "2021-02-03T04:50", "v": 8.6},
      {"s": "Controle 01-Feb 12z", "t": "2021-02-03T06:45", "v": 7.95},
      {"s": "Controle 01-Feb 12z", "t": "2021-02-03T10:00", "v": 8.3},
      {"s": "Controle 01-Feb 12z", "t": "2021-02-03T13:40", "v": 8.25},
      {"s": "Controle 01-Feb 12z", "t": "2021-02-03T17:30", "v": 7.9},
      {"s": "Controle 01-Feb 12z", "t": "2021-02-03T23:00", "v": 7.2},
      {"s": "Controle 01-Feb 12z", "t": "2021-02-04T01:40", "v": 6.6},
      {"s": "Controle 01-Feb 12z", "t": "2021-02-04T04:20", "v": 5.6},
      {"s": "Controle 01-Feb 12z", "t": "2021-02-04T07:25", "v": 4.88},
      {"s": "Controle 01-Feb 12z", "t": "2021-02-04T09:50", "v": 6.3},
      {"s": "Controle 01-Feb 12z", "t": "2021-02-04T13:40", "v": 8.68},
      {"s": "Controle 01-Feb 12z", "t": "2021-02-04T16:20", "v": 8.0},
      {"s": "Controle 01-Feb 12z", "t": "2021-02-04T20:40", "v": 6.6},
      {"s": "Controle 01-Feb 12z", "t": "2021-02-05T01:55", "v": 6.0},
      {"s": "Controle 01-Feb 12z", "t": "2021-02-05T07:25", "v": 5.03},
      {"s": "Controle 01-Feb 12z", "t": "2021-02-05T10:05", "v": 6.9},
      {"s": "Controle 01-Feb 12z", "t": "2021-02-05T13:10", "v": 8.98},
      {"s": "Controle 01-Feb 12z", "t": "2021-02-05T15:50", "v": 7.8},
      {"s": "Controle 01-Feb 12z", "t": "2021-02-05T18:15", "v": 6.6},
      {"s": "Controle 01-Feb 12z", "t": "2021-02-05T23:30", "v": 6.0},
      {"s": "Controle 01-Feb 12z", "t": "2021-02-06T01:25", "v": 5.71},
      {"s": "Controle 01-Feb 12z", "t": "2021-02-06T04:35", "v": 3.59},
      {"s": "Controle 01-Feb 12z", "t": "2021-02-06T07:10", "v": 2.14},
      {"s": "Controle 01-Feb 12z", "t": "2021-02-06T10:20", "v": 3.89},
      {"s": "Controle 01-Feb 12z", "t": "2021-02-06T13:10", "v": 5.49},
      {"s": "Controle 01-Feb 12z", "t": "2021-02-06T15:50", "v": 5.1},
      {"s": "Controle 01-Feb 12z", "t": "2021-02-06T18:30", "v": 3.59},
      {"s": "Controle 01-Feb 12z", "t": "2021-02-06T21:20", "v": 1.7},
      {"s": "Controle 01-Feb 12z", "t": "2021-02-07T00:00", "v": -0.06},
      {"s": "Controle 01-Feb 12z", "t": "2021-02-07T02:40", "v": -1.58},
      {"s": "Controle 01-Feb 12z", "t": "2021-02-07T05:15", "v": -2.34},
      {"s": "Controle 01-Feb 12z", "t": "2021-02-07T08:10", "v": -2.64},
      {"s": "Controle 01-Feb 12z", "t": "2021-02-07T13:25", "v": -2.77},
      {"s": "Controle 01-Feb 12z", "t": "2021-02-07T19:00", "v": -2.8},
      {"s": "Controle 01-Feb 12z", "t": "2021-02-08T00:15", "v": -3.4},
      {"s": "Controle 01-Feb 12z", "t": "2021-02-08T05:45", "v": -3.86},
      {"s": "Controle 01-Feb 12z", "t": "2021-02-08T08:25", "v": -4.16},
      {"s": "Controle 01-Feb 12z", "t": "2021-02-08T11:00", "v": -5.53},
      {"s": "Controle 01-Feb 12z", "t": "2021-02-08T13:40", "v": -5.76},
      {"s": "Controle 01-Feb 12z", "t": "2021-02-08T19:10", "v": -5.56},
      {"s": "Controle 01-Feb 12z", "t": "2021-02-08T21:50", "v": -5.68},
      {"s": "Controle 01-Feb 12z", "t": "2021-02-09T02:25", "v": -6.6},
      {"s": "Controle 01-Feb 12z", "t": "2021-02-09T07:25", "v": -7.74},
      {"s": "Controle 01-Feb 12z", "t": "2021-02-09T09:35", "v": -7.36},
      {"s": "Controle 01-Feb 12z", "t": "2021-02-09T13:25", "v": -6.14},
      {"s": "Controle 01-Feb 12z", "t": "2021-02-09T16:05", "v": -6.29},
      {"s": "Controle 01-Feb 12z", "t": "2021-02-09T19:00", "v": -7.36},
      {"s": "Controle 01-Feb 12z", "t": "2021-02-09T22:05", "v": -9.48},
      {"s": "Controle 01-Feb 12z", "t": "2021-02-10T01:25", "v": -10.82},
      {"s": "Controle 01-Feb 12z", "t": "2021-02-10T02:55", "v": -10.9},
      {"s": "Controle 01-Feb 12z", "t": "2021-02-10T04:35", "v": -10.55},
      {"s": "Controle 01-Feb 12z", "t": "2021-02-10T07:55", "v": -9.18},
      {"s": "Controle 01-Feb 12z", "t": "2021-02-10T10:35", "v": -7.51},
      {"s": "Controle 01-Feb 12z", "t": "2021-02-10T12:45", "v": -6.44},
      {"s": "Controle 01-Feb 12z", "t": "2021-02-10T17:00", "v": -6.32},
      {"s": "Controle 01-Feb 12z", "t": "2021-02-10T20:10", "v": -6.44},
      {"s": "Controle 01-Feb 12z", "t": "2021-02-10T22:20", "v": -7.81},
      {"s": "Controle 01-Feb 12z", "t": "2021-02-11T01:40", "v": -8.39},
      {"s": "Controle 01-Feb 12z", "t": "2021-02-11T05:15", "v": -8.27},
      {"s": "Controle 01-Feb 12z", "t": "2021-02-11T08:10", "v": -7.66},
      {"s": "Controle 01-Feb 12z", "t": "2021-02-11T10:20", "v": -5.68},
      {"s": "Controle 01-Feb 12z", "t": "2021-02-11T12:30", "v": -3.94},
      {"s": "Controle 01-Feb 12z", "t": "2021-02-11T14:10", "v": -3.86},
      {"s": "Controle 01-Feb 12z", "t": "2021-02-11T17:15", "v": -4.16},
      {"s": "Controle 01-Feb 12z", "t": "2021-02-11T23:15", "v": -4.77},
      {"s": "Controle 01-Feb 12z", "t": "2021-02-12T00:15", "v": -4.85},
      {"s": "Controle 01-Feb 12z", "t": "2021-02-12T03:35", "v": -5.84},
      {"s": "Controle 01-Feb 12z", "t": "2021-02-12T06:45", "v": -6.6},
      {"s": "Controle 01-Feb 12z", "t": "2021-02-12T08:25", "v": -6.29},
      {"s": "Controle 01-Feb 12z", "t": "2021-02-12T10:35", "v": -4.16},
      {"s": "Controle 01-Feb 12z", "t": "2021-02-12T12:45", "v": -3.4},
      {"s": "Controle 01-Feb 12z", "t": "2021-02-12T14:55", "v": -3.37},
      {"s": "Controle 01-Feb 12z", "t": "2021-02-12T18:45", "v": -4.01},
      {"s": "Controle 01-Feb 12z", "t": "2021-02-12T23:00", "v": -5.38},
      {"s": "Controle 01-Feb 12z", "t": "2021-02-13T03:20", "v": -6.6},
      {"s": "Controle 01-Feb 12z", "t": "2021-02-13T07:10", "v": -7.13},
      {"s": "Controle 01-Feb 12z", "t": "2021-02-13T08:55", "v": -6.14},
      {"s": "Controle 01-Feb 12z", "t": "2021-02-13T10:20", "v": -2.64},
      {"s": "Controle 01-Feb 12z", "t": "2021-02-13T12:00", "v": -0.67},
      {"s": "Controle 01-Feb 12z", "t": "2021-02-13T13:10", "v": -0.36},
      {"s": "Controle 01-Feb 12z", "t": "2021-02-13T16:05", "v": -1.05},
      {"s": "Controle 01-Feb 12z", "t": "2021-02-13T19:00", "v": -1.46},
      {"s": "Controle 01-Feb 12z", "t": "2021-02-13T21:35", "v": -0.97},
      {"s": "Controle 01-Feb 12z", "t": "2021-02-14T01:10", "v": -0.29},
      {"s": "Controle 01-Feb 12z", "t": "2021-02-14T03:50", "v": -0.97},
      {"s": "Controle 01-Feb 12z", "t": "2021-02-14T07:00", "v": -2.04},
      {"s": "Controle 01-Feb 12z", "t": "2021-02-14T08:40", "v": -1.58},
      {"s": "Controle 01-Feb 12z", "t": "2021-02-14T10:35", "v": -0.06},
      {"s": "Controle 01-Feb 12z", "t": "2021-02-14T13:25", "v": 0.43},
      {"s": "Controle 01-Feb 12z", "t": "2021-02-14T16:05", "v": 0.09},
      {"s": "Controle 01-Feb 12z", "t": "2021-02-14T18:45", "v": -1.28},
      {"s": "Controle 01-Feb 12z", "t": "2021-02-14T21:20", "v": -3.25},
      {"s": "Controle 01-Feb 12z", "t": "2021-02-14T23:30", "v": -5.84},
      {"s": "Controle 01-Feb 12z", "t": "2021-02-15T01:40", "v": -7.66},
      {"s": "Controle 01-Feb 12z", "t": "2021-02-15T03:50", "v": -8.57},
      {"s": "Controle 01-Feb 12z", "t": "2021-02-15T07:10", "v": -8.83},
      {"s": "Controle 01-Feb 12z", "t": "2021-02-15T09:20", "v": -8.27},
      {"s": "Controle 01-Feb 12z", "t": "2021-02-15T11:30", "v": -6.9},
      {"s": "Controle 01-Feb 12z", "t": "2021-02-15T13:40", "v": -6.63},
      {"s": "Controle 01-Feb 12z", "t": "2021-02-15T16:50", "v": -6.9},
      {"s": "Controle 01-Feb 12z", "t": "2021-02-15T20:10", "v": -7.81},
      {"s": "Controle 01-Feb 12z", "t": "2021-02-15T23:30", "v": -9.48},
      {"s": "Controle 01-Feb 12z", "t": "2021-02-16T03:05", "v": -11.0},
      {"s": "Controle 01-Feb 12z", "t": "2021-02-16T07:00", "v": -11.61},
      {"s": "Controle 01-Feb 12z", "t": "2021-02-16T09:05", "v": -10.85},
      {"s": "Controle 01-Feb 12z", "t": "2021-02-16T11:15", "v": -7.96},
      {"s": "Controle 01-Feb 12z", "t": "2021-02-16T13:00", "v": -5.15},
      {"s": "Gemiddelde 01-Feb 12z", "t": "2021-02-01T19:00", "v": 0.85},
      {"s": "Gemiddelde 01-Feb 12z", "t": "2021-02-02T03:00", "v": 0.95},
      {"s": "Gemiddelde 01-Feb 12z", "t": "2021-02-02T06:00", "v": 1.1},
      {"s": "Gemiddelde 01-Feb 12z", "t": "2021-02-02T09:10", "v": 1.8},
      {"s": "Gemiddelde 01-Feb 12z", "t": "2021-02-02T11:45", "v": 3.2},
      {"s": "Gemiddelde 01-Feb 12z", "t": "2021-02-02T14:40", "v": 5.1},
      {"s": "Gemiddelde 01-Feb 12z", "t": "2021-02-02T17:15", "v": 6.9},
      {"s": "Gemiddelde 01-Feb 12z", "t": "2021-02-02T19:55", "v": 7.9},
      {"s": "Gemiddelde 01-Feb 12z", "t": "2021-02-02T22:35", "v": 8.5},
      {"s": "Gemiddelde 01-Feb 12z", "t": "2021-02-03T01:10", "v": 8.6},
      {"s": "Gemiddelde 01-Feb 12z", "t": "2021-02-03T04:50", "v": 8.5},
      {"s": "Gemiddelde 01-Feb 12z", "t": "2021-02-03T07:10", "v": 8.05},
      {"s": "Gemiddelde 01-Feb 12z", "t": "2021-02-03T10:05", "v": 8.6},
      {"s": "Gemiddelde 01-Feb 12z", "t": "2021-02-03T12:45", "v": 9.0},
      {"s": "Gemiddelde 01-Feb 12z", "t": "2021-02-03T14:55", "v": 8.6},
      {"s": "Gemiddelde 01-Feb 12z", "t": "2021-02-03T17:40", "v": 7.77},
      {"s": "Gemiddelde 01-Feb 12z", "t": "2021-02-03T23:00", "v": 7.0},
      {"s": "Gemiddelde 01-Feb 12z", "t": "2021-02-04T01:40", "v": 6.4},
      {"s": "Gemiddelde 01-Feb 12z", "t": "2021-02-04T04:20", "v": 5.87},
      {"s": "Gemiddelde 01-Feb 12z", "t": "2021-02-04T07:25", "v": 5.49},
      {"s": "Gemiddelde 01-Feb 12z", "t": "2021-02-04T09:50", "v": 6.17},
      {"s": "Gemiddelde 01-Feb 12z", "t": "2021-02-04T13:40", "v": 8.6},
      {"s": "Gemiddelde 01-Feb 12z", "t": "2021-02-04T16:50", "v": 7.69},
      {"s": "Gemiddelde 01-Feb 12z", "t": "2021-02-04T20:40", "v": 6.02},
      {"s": "Gemiddelde 01-Feb 12z", "t": "2021-02-05T01:55", "v": 5.03},
      {"s": "Gemiddelde 01-Feb 12z", "t": "2021-02-05T07:25", "v": 4.57},
      {"s": "Gemiddelde 01-Feb 12z", "t": "2021-02-05T09:50", "v": 5.71},
      {"s": "Gemiddelde 01-Feb 12z", "t": "2021-02-05T13:25", "v": 8.15},
      {"s": "Gemiddelde 01-Feb 12z", "t": "2021-02-05T18:15", "v": 6.47},
      {"s": "Gemiddelde 01-Feb 12z", "t": "2021-02-05T23:30", "v": 5.26},
      {"s": "Gemiddelde 01-Feb 12z", "t": "2021-02-06T07:10", "v": 3.28},
      {"s": "Gemiddelde 01-Feb 12z", "t": "2021-02-06T10:20", "v": 4.19},
      {"s": "Gemiddelde 01-Feb 12z", "t": "2021-02-06T13:10", "v": 5.26},
      {"s": "Gemiddelde 01-Feb 12z", "t": "2021-02-06T15:50", "v": 4.65},
      {"s": "Gemiddelde 01-Feb 12z", "t": "2021-02-06T18:30", "v": 3.13},
      {"s": "Gemiddelde 01-Feb 12z", "t": "2021-02-06T21:20", "v": 1.16},
      {"s": "Gemiddelde 01-Feb 12z", "t": "2021-02-07T00:00", "v": -0.06},
      {"s": "Gemiddelde 01-Feb 12z", "t": "2021-02-07T04:20", "v": -1.43},
      {"s": "Gemiddelde 01-Feb 12z", "t": "2021-02-07T07:00", "v": -1.58},
      {"s": "Gemiddelde 01-Feb 12z", "t": "2021-02-07T10:50", "v": -0.97},
      {"s": "Gemiddelde 01-Feb 12z", "t": "2021-02-07T13:25", "v": -0.9},
      {"s": "Gemiddelde 01-Feb 12z", "t": "2021-02-07T16:35", "v": -1.28},
      {"s": "Gemiddelde 01-Feb 12z", "t": "2021-02-07T20:55", "v": -2.34},
      {"s": "Gemiddelde 01-Feb 12z", "t": "2021-02-08T01:25", "v": -3.4},
      {"s": "Gemiddelde 01-Feb 12z", "t": "2021-02-08T05:45", "v": -3.78},
      {"s": "Gemiddelde 01-Feb 12z", "t": "2021-02-08T07:55", "v": -3.86},
      {"s": "Gemiddelde 01-Feb 12z", "t": "2021-02-08T10:05", "v": -2.49},
      {"s": "Gemiddelde 01-Feb 12z", "t": "2021-02-08T12:15", "v": -1.28},
      {"s": "Gemiddelde 01-Feb 12z", "t": "2021-02-08T13:40", "v": -1.2},
      {"s": "Gemiddelde 01-Feb 12z", "t": "2021-02-08T16:20", "v": -2.34},
      {"s": "Gemiddelde 01-Feb 12z", "t": "2021-02-08T19:40", "v": -3.71},
      {"s": "Gemiddelde 01-Feb 12z", "t": "2021-02-09T00:00", "v": -4.47},
      {"s": "Gemiddelde 01-Feb 12z", "t": "2021-02-09T07:00", "v": -5.38},
      {"s": "Gemiddelde 01-Feb 12z", "t": "2021-02-09T09:05", "v": -4.62},
      {"s": "Gemiddelde 01-Feb 12z", "t": "2021-02-09T11:15", "v": -1.73},
      {"s": "Gemiddelde 01-Feb 12z", "t": "2021-02-09T13:25", "v": -0.59},
      {"s": "Gemiddelde 01-Feb 12z", "t": "2021-02-09T15:05", "v": -0.97},
      {"s": "Gemiddelde 01-Feb 12z", "t": "2021-02-09T17:15", "v": -2.34},
      {"s": "Gemiddelde 01-Feb 12z", "t": "2021-02-09T21:05", "v": -3.86},
      {"s": "Gemiddelde 01-Feb 12z", "t": "2021-02-10T01:55", "v": -5.23},
      {"s": "Gemiddelde 01-Feb 12z", "t": "2021-02-10T07:10", "v": -5.61},
      {"s": "Gemiddelde 01-Feb 12z", "t": "2021-02-10T09:20", "v": -3.71},
      {"s": "Gemiddelde 01-Feb 12z", "t": "2021-02-10T11:00", "v": -1.43},
      {"s": "Gemiddelde 01-Feb 12z", "t": "2021-02-10T13:10", "v": -0.36},
      {"s": "Gemiddelde 01-Feb 12z", "t": "2021-02-10T15:50", "v": -1.12},
      {"s": "Gemiddelde 01-Feb 12z", "t": "2021-02-10T18:00", "v": -2.34},
      {"s": "Gemiddelde 01-Feb 12z", "t": "2021-02-10T22:20", "v": -3.56},
      {"s": "Gemiddelde 01-Feb 12z", "t": "2021-02-11T02:40", "v": -4.32},
      {"s": "Gemiddelde 01-Feb 12z", "t": "2021-02-11T07:00", "v": -4.85},
      {"s": "Gemiddelde 01-Feb 12z", "t": "2021-02-11T09:05", "v": -4.32},
      {"s": "Gemiddelde 01-Feb 12z", "t": "2021-02-11T10:50", "v": -0.36},
      {"s": "Gemiddelde 01-Feb 12z", "t": "2021-02-11T13:00", "v": 1.08},
      {"s": "Gemiddelde 01-Feb 12z", "t": "2021-02-11T15:05", "v": 0.24},
      {"s": "Gemiddelde 01-Feb 12z", "t": "2021-02-11T17:45", "v": -0.75},
      {"s": "Gemiddelde 01-Feb 12z", "t": "2021-02-11T21:05", "v": -0.6},
      {"s": "Gemiddelde 01-Feb 12z", "t": "2021-02-12T01:25", "v": -0.4},
      {"s": "Gemiddelde 01-Feb 12z", "t": "2021-02-12T04:05", "v": -1.12},
      {"s": "Gemiddelde 01-Feb 12z", "t": "2021-02-12T07:00", "v": -2.16},
      {"s": "Gemiddelde 01-Feb 12z", "t": "2021-02-12T08:25", "v": -1.73},
      {"s": "Gemiddelde 01-Feb 12z", "t": "2021-02-12T10:35", "v": 1.0},
      {"s": "Gemiddelde 01-Feb 12z", "t": "2021-02-12T12:15", "v": 2.22},
      {"s": "Gemiddelde 01-Feb 12z", "t": "2021-02-12T13:10", "v": 2.4},
      {"s": "Gemiddelde 01-Feb 12z", "t": "2021-02-12T15:20", "v": 1.91},
      {"s": "Gemiddelde 01-Feb 12z", "t": "2021-02-12T18:15", "v": 0.85},
      {"s": "Gemiddelde 01-Feb 12z", "t": "2021-02-12T21:20", "v": 0.24},
      {"s": "Gemiddelde 01-Feb 12z", "t": "2021-02-13T02:10", "v": 0.12},
      {"s": "Gemiddelde 01-Feb 12z", "t": "2021-02-13T05:30", "v": 0.32},
      {"s": "Gemiddelde 01-Feb 12z", "t": "2021-02-13T08:10", "v": 0.85},
      {"s": "Gemiddelde 01-Feb 12z", "t": "2021-02-13T10:20", "v": 2.22},
      {"s": "Gemiddelde 01-Feb 12z", "t": "2021-02-13T12:30", "v": 3.36},
      {"s": "Gemiddelde 01-Feb 12z", "t": "2021-02-13T14:40", "v": 3.51},
      {"s": "Gemiddelde 01-Feb 12z", "t": "2021-02-13T18:00", "v": 3.28},
      {"s": "Gemiddelde 01-Feb 12z", "t": "2021-02-13T21:05", "v": 2.83},
      {"s": "Gemiddelde 01-Feb 12z", "t": "2021-02-14T01:55", "v": 2.33},
      {"s": "Gemiddelde 01-Feb 12z", "t": "2021-02-14T05:15", "v": 2.67},
      {"s": "Gemiddelde 01-Feb 12z", "t": "2021-02-14T07:55", "v": 3.43},
      {"s": "Gemiddelde 01-Feb 12z", "t": "2021-02-14T10:35", "v": 5.26},
      {"s": "Gemiddelde 01-Feb 12z", "t": "2021-02-14T13:10", "v": 5.87},
      {"s": "Gemiddelde 01-Feb 12z", "t": "2021-02-14T16:05", "v": 5.79},
      {"s": "Gemiddelde 01-Feb 12z", "t": "2021-02-14T18:45", "v": 5.41},
      {"s": "Gemiddelde 01-Feb 12z", "t": "2021-02-14T21:20", "v": 4.65},
      {"s": "Gemiddelde 01-Feb 12z", "t": "2021-02-15T00:15", "v": 3.89},
      {"s": "Gemiddelde 01-Feb 12z", "t": "2021-02-15T03:50", "v": 3.13},
      {"s": "Gemiddelde 01-Feb 12z", "t": "2021-02-15T07:10", "v": 2.83},
      {"s": "Gemiddelde 01-Feb 12z", "t": "2021-02-15T08:55", "v": 3.28},
      {"s": "Gemiddelde 01-Feb 12z", "t": "2021-02-15T11:00", "v": 5.41},
      {"s": "Gemiddelde 01-Feb 12z", "t": "2021-02-15T13:10", "v": 6.29},
      {"s": "Gemiddelde 01-Feb 12z", "t": "2021-02-15T15:20", "v": 5.87},
      {"s": "Gemiddelde 01-Feb 12z", "t": "2021-02-15T18:00", "v": 4.95},
      {"s": "Gemiddelde 01-Feb 12z", "t": "2021-02-15T21:50", "v": 4.35},
      {"s": "Gemiddelde 01-Feb 12z", "t": "2021-02-16T00:30", "v": 4.07},
      {"s": "Gemiddelde 01-Feb 12z", "t": "2021-02-16T03:05", "v": 3.74},
      {"s": "Gemiddelde 01-Feb 12z", "t": "2021-02-16T07:00", "v": 3.54},
      {"s": "Gemiddelde 01-Feb 12z", "t": "2021-02-16T09:05", "v": 4.04},
      {"s": "Gemiddelde 01-Feb 12z", "t": "2021-02-16T11:15", "v": 5.41},
      {"s": "Gemiddelde 01-Feb 12z", "t": "2021-02-16T13:00", "v": 6.67},
      {"s": "Gemeten Temperatuur", "t": "2021-02-01T07:00", "v": 0.53},
      {"s": "Gemeten Temperatuur", "t": "2021-02-01T10:00", "v": 0.67},
      {"s": "Gemeten Temperatuur", "t": "2021-02-01T11:05", "v": 1.24},
      {"s": "Gemeten Temperatuur", "t": "2021-02-01T12:05", "v": 1.54},
      {"s": "Gemeten Temperatuur", "t": "2021-02-01T13:10", "v": 1.65},
      {"s": "Gemeten Temperatuur", "t": "2021-02-01T15:05", "v": 2.03},
      {"s": "Gemeten Temperatuur", "t": "2021-02-01T16:25", "v": 1.62},
      {"s": "Gemeten Temperatuur", "t": "2021-02-01T17:30", "v": 1.34},
      {"s": "Gemeten Temperatuur", "t": "2021-02-01T18:55", "v": 1.07},
      {"s": "Gemeten Temperatuur", "t": "2021-02-01T19:55", "v": 1.05},
      {"s": "Gemeten Temperatuur", "t": "2021-02-01T21:20", "v": 1.13}
    ]
  },
  "encoding": {
    "x": {
      "field": "t",
      "type": "temporal",
      "scale": {
        "domain": [
          {"year": 2021, "month": 2, "date": 1, "hours": 3, "minutes": 34},
          {"year": 2021, "month": 2, "date": 16, "hours": 16, "minutes": 2}
        ]
      },
      "axis": {
        "title": "Weerpluimen.nl",
        "titleFontSize": 16.7,
        "titleFontWeight": "normal",
        "titleColor": "#999999",
        "titleAlign": "right",
        "titleAnchor": "end",
        "titleBaseline": "alphabetic",
        "titleX": 2303,
        "titleY": 173,
        "tickCount": {"interval": "day", "step": 1},
        "grid": false,
        "domainColor": "#ccd6eb",
        "domainWidth": 1.8,
        "tickColor": "#ccd6eb",
        "tickWidth": 1.8,
        "tickSize": 18,
        "labelPadding": 0,
        "labelFontSize": 20,
        "labelColor": "#666666",
        "labelLineHeight": 26,
        "labelBaseline": "top",
        "labelExpr": "[['Zon','Maa','Din','Woe','Don','Vri','Zat'][day(datum.value)], timeFormat(datum.value, '%d-%m')]"
      }
    },
    "y": {
      "field": "v",
      "type": "quantitative",
      "scale": {"domain": [-12, 10], "nice": false, "zero": false},
      "axis": {
        "title": null,
        "values": [-12, -10, -8, -6, -4, -2, 0, 2, 4, 6, 8, 10],
        "domain": false,
        "ticks": false,
        "labelPadding": 29.5,
        "labelFontSize": 20,
        "labelColor": "#666666",
        "gridWidth": 1.8,
        "gridColor": {"condition": {"test": "datum.value === 0", "value": "#b8b8b8"}, "value": "#e6e6e6"}
      }
    },
    "strokeDash": {
      "field": "s",
      "type": "nominal",
      "scale": {
        "domain": [
          "Oper 01-Feb 00z", "Controle 01-Feb 00z", "Gemiddelde 01-Feb 00z", "Bereik 01-Feb 00z", "Bereik 80% 01-Feb 00z",
          "Oper 01-Feb 12z", "Controle 01-Feb 12z", "Gemiddelde 01-Feb 12z", "Bereik 01-Feb 12z", "Bereik 80% 01-Feb 12z",
          "Gemeten Temperatuur"
        ],
        "range": [
          [1, 0], [2.8, 2.8], [11, 7], [1, 0], [1, 0],
          [1, 0], [2.8, 2.8], [11, 7], [1, 0], [1, 0],
          [1, 0]
        ]
      }
    },
    "color": {
      "field": "s",
      "type": "nominal",
      "scale": {
        "domain": [
          "Oper 01-Feb 00z", "Controle 01-Feb 00z", "Gemiddelde 01-Feb 00z", "Bereik 01-Feb 00z", "Bereik 80% 01-Feb 00z",
          "Oper 01-Feb 12z", "Controle 01-Feb 12z", "Gemiddelde 01-Feb 12z", "Bereik 01-Feb 12z", "Bereik 80% 01-Feb 12z",
          "Gemeten Temperatuur"
        ],
        "range": [
          "#5cb85c", "#5cb85c", "#5cb85c", "#cccccc", "#cccccc",
          "#9b59b6", "#9b59b6", "#9b59b6", "#cccccc", "#cccccc",
          "#000000"
        ]
      },
      "legend": {
        "title": null,
        "orient": "none",
        "legendX": -2,
        "legendY": 1012,
        "direction": "horizontal",
        "columns": 7,
        "gridAlign": "all",
        "columnPadding": 33,
        "rowPadding": 0,
        "padding": 0,
        "symbolType": "stroke",
        "symbolSize": 841,
        "symbolStrokeWidth": 3.5,
        "labelFontSize": 22.4,
        "labelFontWeight": "bold",
        "labelColor": "#333333",
        "labelOffset": 6.5,
        "labelLimit": 400
      }
    }
  },
  "layer": [
    {
      "transform": [{"filter": "datum.s === 'Oper 01-Feb 00z'"}],
      "mark": {"type": "line", "interpolate": "monotone", "strokeWidth": 4}
    },
    {
      "transform": [{"filter": "datum.s === 'Controle 01-Feb 00z'"}],
      "mark": {"type": "line", "interpolate": "monotone", "strokeWidth": 2.8}
    },
    {
      "transform": [{"filter": "datum.s === 'Gemiddelde 01-Feb 00z'"}],
      "mark": {"type": "line", "interpolate": "monotone", "strokeWidth": 2.8}
    },
    {
      "transform": [{"filter": "datum.s === 'Oper 01-Feb 12z'"}],
      "mark": {"type": "line", "interpolate": "monotone", "strokeWidth": 4}
    },
    {
      "transform": [{"filter": "datum.s === 'Controle 01-Feb 12z'"}],
      "mark": {"type": "line", "interpolate": "monotone", "strokeWidth": 2.8}
    },
    {
      "transform": [{"filter": "datum.s === 'Gemiddelde 01-Feb 12z'"}],
      "mark": {"type": "line", "interpolate": "monotone", "strokeWidth": 2.8}
    },
    {
      "transform": [{"filter": "datum.s === 'Gemeten Temperatuur'"}],
      "mark": {"type": "line", "interpolate": "monotone", "strokeWidth": 4}
    }
  ],
  "config": {
    "font": "Liberation Sans",
    "view": {"stroke": null}
  }
}
